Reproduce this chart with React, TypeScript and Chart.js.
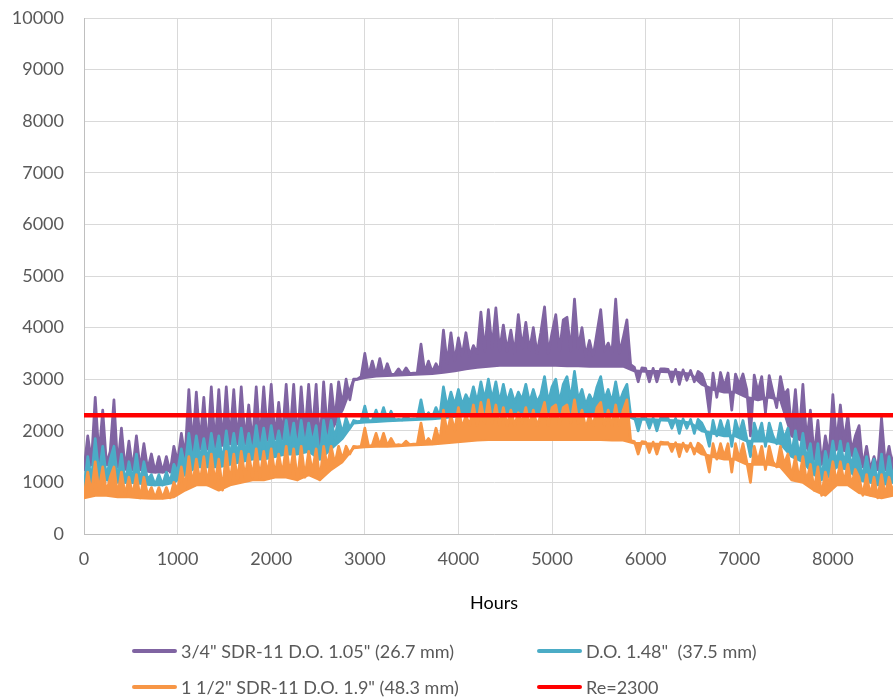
import { useEffect, useRef } from "react";
import { Chart, registerables } from "chart.js";

Chart.register(...registerables);

// Hourly Reynolds numbers over one year, sampled every 40 h (alternating trough / peak readings)
const STEP_HOURS = 40;
// Lower edge of each daily band, sampled every 120 h
const FLOOR_STEP_HOURS = 120;
const HOURS_IN_YEAR = 8760;
const RE_CRITICAL = 2300;

const X_TICKS = [0, 1000, 2000, 3000, 4000, 5000, 6000, 7000, 8000];
const Y_MAX = 10000;
const Y_TICK_STEP = 1000;

const SERIES_LABELS = [
  '3/4" SDR-11 D.O. 1.05" (26.7 mm)',
  'D.O. 1.48"  (37.5 mm)',
  '1 1/2" SDR-11 D.O. 1.9" (48.3 mm)',
  "Re=2300",
];
const SERIES_COLORS = ["#8064a2", "#4bacc6", "#f79646", "#ff0000"];

// 3/4" SDR-11 pipe
const pipe34 = [
  1250, 1900, 1400, 2650, 1500, 2400, 1350, 1600, 2600, 1300, 2050, 1250, 1800, 1250, 1900, 1250, 1750, 1250, 1550, 1200, 1500, 1200, 1500, 1200, 1700,
  1400, 1950, 1500, 2800, 1700, 2750, 1750, 2650, 1650, 2850, 1700, 2800, 1750, 2850, 1800, 2800, 1750, 2850, 1800, 2500, 1750, 2850, 1800, 2850, 1900,
  2900, 1850, 2550, 1900, 2900, 1900, 2900, 1800, 2850, 1900, 2900, 1950, 2900, 1700, 2950, 2000, 2900, 2200, 2950, 2500, 3000, 2600, 3000, 3000, 3050,
  3500, 3070, 3350, 3080, 3400, 3080, 3300, 3090, 3100, 3200, 3100, 3220, 3110, 3120, 3120, 3680, 3130, 3350, 3140, 3300, 3150, 3950, 3300, 3900, 3350,
  3800, 3450, 3900, 3450, 3650, 3500, 4300, 3550, 4350, 3600, 4380, 3550, 4050, 3550, 3950, 3500, 4250, 3600, 4100, 3550, 4000, 3500, 3900, 4400, 3500,
  3900, 4250, 3550, 4150, 4200, 3550, 4550, 3600, 4000, 3450, 3750, 3450, 3900, 4350, 3550, 3700, 3500, 4550, 3500, 3800, 4150, 3280, 3230, 2950, 3220,
  3210, 2950, 3210, 2950, 3200, 3200, 3190, 2950, 3190, 2900, 3180, 2980, 3170, 2950, 3150, 3100, 2900, 2350, 3120, 2650, 3130, 2850, 3120, 2400, 3100,
  2900, 3100, 2800, 1900, 3080, 2750, 3050, 2350, 3070, 2750, 2450, 3050, 2700, 2800, 2000, 2800, 1900, 2900, 1800, 2400, 1500, 2200, 1350, 1900, 1500,
  2700, 1750, 2500, 1800, 2300, 1600, 1900, 2100, 1300, 1700, 1250, 1500, 1250, 2250, 1350, 1700, 1300, 1900, 1400, 1800,
];
const pipe34Floor = [
  1250, 1400, 1350, 1300, 1250, 1250, 1200, 1200, 1250, 1450,
  1650, 1650, 1700, 1750, 1750, 1750, 1800, 1850, 1850, 1800,
  1900, 1750, 2000, 2400, 2980, 3030, 3060, 3070, 3080, 3090,
  3100, 3110, 3130, 3160, 3200, 3230, 3250, 3270, 3270, 3270,
  3270, 3270, 3270, 3260, 3260, 3250, 3250, 3250, 3250, 3160,
  3150, 3150, 3140, 3130, 3100, 2900, 2800, 2750, 2750, 2650,
  2600, 2650, 2600, 1900, 1800, 1450, 1400, 1650, 1600, 1400,
  1250, 1250, 1250, 1300,
];

// D.O. 1.48" pipe
const pipe148 = [
  900, 1500, 1050, 1850, 1150, 1700, 1100, 1450, 1700, 1050, 1550, 1000, 1400, 1050, 1550, 1000, 1400, 1050, 1150, 950, 1150, 950, 1200, 1000, 1350,
  1200, 1650, 1300, 1950, 1400, 1900, 1450, 1850, 1400, 1950, 1500, 1900, 1400, 2000, 1500, 1950, 1500, 2050, 1550, 1950, 1550, 2100, 1600, 2050, 1600,
  2100, 1650, 2000, 1650, 2200, 1700, 2150, 1650, 2200, 1700, 2150, 1750, 2100, 1450, 2200, 1750, 2200, 1850, 2250, 1950, 2250, 2050, 2200, 2180, 2190,
  2480, 2190, 2200, 2400, 2200, 2450, 2200, 2380, 2210, 2220, 2210, 2300, 2220, 2230, 2230, 2600, 2240, 2350, 2250, 2450, 2270, 2850, 2450, 2750, 2500,
  2800, 2500, 2700, 2550, 2850, 2550, 2950, 2600, 3000, 2600, 2950, 2550, 2900, 2550, 2800, 2550, 2750, 2600, 2900, 2550, 2800, 2550, 2700, 3050, 2550,
  2850, 3000, 2550, 2900, 3050, 2600, 3150, 2600, 2800, 2500, 2700, 2550, 2850, 3050, 2600, 2800, 2550, 2950, 2550, 2750, 2900, 2300, 2270, 2000, 2260,
  2260, 2050, 2250, 2000, 2250, 2250, 2240, 2050, 2240, 1950, 2230, 2050, 2220, 1950, 2220, 2150, 2000, 1700, 2200, 1900, 2200, 1950, 2200, 1700, 2200,
  1950, 2200, 1850, 1500, 2150, 1900, 2150, 1700, 2150, 1900, 1750, 2150, 1850, 2050, 1550, 2000, 1500, 1950, 1450, 1750, 1200, 1750, 1050, 1600, 1300,
  1800, 1350, 1800, 1350, 1750, 1300, 1650, 1450, 1100, 1500, 1100, 1450, 950, 1550, 1000, 1500, 1050, 1550, 1100, 1450,
];
const pipe148Floor = [
  900, 1050, 1050, 1000, 1000, 980, 950, 950, 1000, 1150,
  1300, 1300, 1300, 1350, 1400, 1450, 1450, 1500, 1550, 1550,
  1600, 1450, 1650, 1850, 2150, 2170, 2180, 2190, 2200, 2210,
  2220, 2230, 2250, 2280, 2300, 2320, 2330, 2340, 2340, 2340,
  2340, 2340, 2340, 2340, 2340, 2330, 2330, 2330, 2320, 2230,
  2220, 2210, 2200, 2190, 2150, 2000, 1950, 1900, 1900, 1800,
  1800, 1800, 1750, 1500, 1400, 1150, 1050, 1300, 1250, 1050,
  1000, 950, 1000, 1050,
];

// 1 1/2" SDR-11 pipe
const pipe112 = [
  750, 1200, 800, 1400, 850, 1300, 800, 1100, 1300, 750, 1200, 750, 1100, 750, 1150, 700, 1100, 750, 900, 700, 900, 700, 900, 700, 1000,
  850, 1300, 900, 1500, 950, 1450, 1000, 1500, 950, 1550, 1000, 1450, 850, 1600, 1000, 1550, 1050, 1600, 1100, 1550, 1100, 1650, 1100, 1600, 1150,
  1650, 1150, 1550, 1150, 1700, 1150, 1650, 1050, 1700, 1100, 1600, 1200, 1650, 1050, 1700, 1300, 1700, 1350, 1700, 1450, 1700, 1550, 1700, 1690, 1700,
  2050, 1700, 1720, 1950, 1710, 1950, 1710, 1850, 1720, 1730, 1720, 1800, 1730, 1740, 1740, 2150, 1750, 1850, 1750, 2050, 1780, 2400, 1950, 2300, 2000,
  2450, 2050, 2300, 2100, 2500, 2100, 2550, 2150, 2600, 2150, 2500, 2100, 2450, 2100, 2400, 2100, 2350, 2150, 2450, 2100, 2400, 2100, 2300, 2550, 2100,
  2450, 2500, 2100, 2450, 2500, 2150, 2600, 2150, 2400, 2050, 2300, 2100, 2450, 2550, 2100, 2400, 2100, 2500, 2100, 2400, 2600, 1810, 1790, 1550, 1790,
  1780, 1580, 1780, 1550, 1780, 1770, 1770, 1600, 1770, 1500, 1760, 1600, 1760, 1550, 1760, 1700, 1550, 1200, 1750, 1450, 1750, 1500, 1750, 1200, 1750,
  1450, 1750, 1400, 1000, 1700, 1400, 1700, 1250, 1700, 1400, 1300, 1700, 1350, 1550, 1100, 1500, 1050, 1500, 1000, 1350, 850, 1300, 750, 1200, 950,
  1400, 1000, 1400, 1000, 1350, 950, 1250, 1100, 750, 1150, 750, 1100, 700, 1150, 750, 1100, 800, 1150, 800, 1100,
];
const pipe112Floor = [
  700, 750, 750, 720, 720, 700, 690, 690, 720, 850,
  950, 950, 850, 950, 1000, 1050, 1050, 1100, 1100, 1050,
  1150, 1050, 1250, 1400, 1670, 1690, 1700, 1700, 1710, 1720,
  1730, 1740, 1760, 1780, 1800, 1820, 1830, 1830, 1830, 1830,
  1830, 1830, 1830, 1830, 1830, 1830, 1830, 1820, 1820, 1760,
  1750, 1740, 1740, 1730, 1700, 1550, 1500, 1450, 1450, 1350,
  1350, 1350, 1300, 1050, 1000, 850, 750, 950, 950, 800,
  750, 700, 750, 800,
];

const FONT_FAMILY = "Lato, 'Open Sans', sans-serif";
const FONT_SIZE = 18;
const TEXT_GREY = "#595959";

const toPoints = (values: number[], step: number) =>
  values.map((y, i) => ({ x: i * step, y }));

const bandDatasets = (values: number[], floor: number[], color: string, floorIndex: number) => [
  {
    data: toPoints(values, STEP_HOURS),
    borderColor: color,
    backgroundColor: color,
    borderWidth: 2.75,
    fill: floorIndex,
  },
  {
    data: toPoints(floor, FLOOR_STEP_HOURS),
    borderColor: color,
    backgroundColor: color,
    borderWidth: 2.75,
    fill: false,
  },
];

export default function App() {
  const canvasRef = useRef<HTMLCanvasElement | null>(null);

  useEffect(() => {
    const canvas = canvasRef.current;
    if (!canvas) return;

    const datasets: any[] = [
      {
        data: [
          { x: 0, y: RE_CRITICAL },
          { x: HOURS_IN_YEAR, y: RE_CRITICAL },
        ],
        borderColor: SERIES_COLORS[3],
        borderWidth: 4.5,
        fill: false,
      },
      ...bandDatasets(pipe112, pipe112Floor, SERIES_COLORS[2], 2),
      ...bandDatasets(pipe148, pipe148Floor, SERIES_COLORS[1], 4),
      ...bandDatasets(pipe34, pipe34Floor, SERIES_COLORS[0], 6),
    ];

    const chart = new Chart(canvas, {
      type: "line",
      data: { datasets },
      options: {
        responsive: false,
        animation: false,
        devicePixelRatio: 1,
        parsing: false,
        normalized: true,
        layout: { padding: { top: 18, right: 0, bottom: 83, left: 0 } },
        elements: {
          point: { radius: 0, hoverRadius: 0 },
          line: { tension: 0, borderJoinStyle: "round", borderCapStyle: "round" },
        },
        plugins: {
          legend: { display: false },
          tooltip: { enabled: false },
        },
        scales: {
          x: {
            type: "linear",
            min: 0,
            max: HOURS_IN_YEAR,
            grid: { color: "#d9d9d9", drawTicks: false },
            border: { color: "#bfbfbf" },
            afterBuildTicks: (scale: any) => {
              scale.ticks = X_TICKS.map((value) => ({ value }));
            },
            ticks: {
              autoSkip: false,
              maxRotation: 0,
              padding: 14,
              color: TEXT_GREY,
              font: { family: FONT_FAMILY, size: FONT_SIZE },
              callback: (value: any) => String(value),
            },
            title: {
              display: true,
              text: "Hours",
              color: "#000000",
              padding: 0,
              font: { family: FONT_FAMILY, size: FONT_SIZE },
            },
            afterFit: (scale: any) => {
              scale.height = 80;
            },
          },
          y: {
            type: "linear",
            min: 0,
            max: Y_MAX,
            grid: { color: "#d9d9d9", drawTicks: false },
            border: { color: "#bfbfbf" },
            ticks: {
              stepSize: Y_TICK_STEP,
              padding: 20,
              color: TEXT_GREY,
              font: { family: FONT_FAMILY, size: FONT_SIZE },
              callback: (value: any) => String(value),
            },
            afterFit: (scale: any) => {
              scale.width = 84;
              scale.paddingTop = 0;
              scale.paddingBottom = 0;
            },
          },
        },
      },
    });

    return () => chart.destroy();
  }, []);

  const legendRows = [
    { top: 651, items: [0, 1] },
    { top: 687, items: [2, 3] },
  ];
  const columnLeft = [132, 537];

  return (
    <div
      style={{
        position: "fixed",
        left: 0,
        top: 0,
        width: 893,
        height: 697,
        overflow: "hidden",
        background: "#ffffff",
      }}
    >
      <canvas ref={canvasRef} width={904} height={697} style={{ display: "block" }} />
      {legendRows.map((row) =>
        row.items.map((idx, col) => (
          <div
            key={idx}
            style={{
              position: "absolute",
              left: columnLeft[col],
              top: row.top - 12,
              height: 24,
              display: "flex",
              alignItems: "center",
              whiteSpace: "pre",
              fontFamily: FONT_FAMILY,
              fontSize: FONT_SIZE,
              color: TEXT_GREY,
            }}
          >
            <span
              style={{
                display: "inline-block",
                width: 45,
                height: 3.5,
                borderRadius: 2,
                background: SERIES_COLORS[idx],
                marginRight: 4,
              }}
            />
            <span>{SERIES_LABELS[idx]}</span>
          </div>
        ))
      )}
    </div>
  );
}
